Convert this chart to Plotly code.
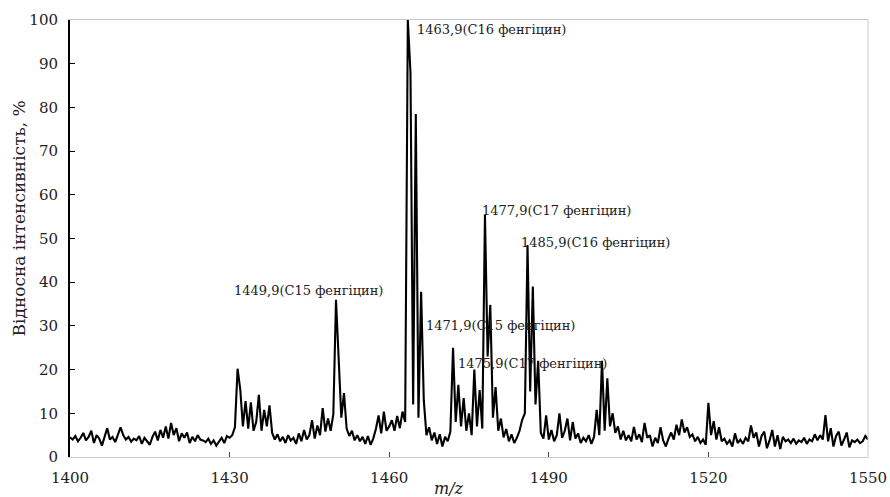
import plotly.graph_objects as go

# m/z grid start and step (uniform sampling of the spectrum)
mz_start = 1400.0
mz_step = 0.5

# Relative intensity, % (one value per 0.5 m/z, 1400 .. 1550)
intensity = [
    # 1400.0 - 1409.5
    4.5, 4.0, 4.8, 3.6, 4.4, 5.5, 3.8, 4.6, 6.0, 3.2,
    5.0, 4.2, 2.6, 4.8, 6.6, 4.0, 4.6, 3.4, 5.2, 6.8,
    # 1410.0 - 1419.5
    5.0, 4.0, 4.6, 3.5, 4.2, 3.8, 4.8, 3.0, 4.4, 3.6,
    2.8, 4.6, 5.8, 3.8, 6.2, 4.4, 7.0, 4.2, 7.8, 5.0,
    # 1420.0 - 1429.5
    6.6, 3.6, 5.4, 4.4, 5.6, 3.2, 4.6, 3.6, 5.0, 4.0,
    3.8, 3.4, 4.2, 3.0, 3.8, 2.6, 3.6, 4.4, 3.2, 4.8,
    # 1430.0 - 1439.5
    4.4, 5.0, 6.8, 20.2, 15.5, 7.0, 12.8, 6.5, 12.5, 6.0,
    8.0, 14.2, 6.0, 10.8, 7.0, 11.8, 5.5, 4.0, 5.2, 3.6,
    # 1440.0 - 1449.5
    4.6, 3.2, 5.0, 3.8, 4.4, 3.0, 5.4, 3.6, 6.2, 4.0,
    5.0, 8.4, 4.2, 7.2, 5.0, 11.2, 5.8, 8.8, 6.0, 9.8,
    # 1450.0 - 1459.5
    36.0, 23.5, 9.0, 14.6, 6.5, 4.8, 6.0, 3.8, 5.0, 3.6,
    4.6, 3.0, 4.8, 2.8, 4.2, 6.4, 9.5, 5.4, 10.4, 6.0,
    # 1460.0 - 1469.5
    7.0, 8.4, 6.0, 9.4, 6.6, 10.4, 8.0, 100.0, 88.0, 12.0,
    78.5, 9.0, 37.8, 13.0, 5.0, 6.8, 3.8, 5.6, 3.0, 5.2,
    # 1470.0 - 1479.5
    2.4, 4.6, 3.6, 5.8, 25.0, 8.0, 16.5, 7.0, 13.5, 6.0,
    10.0, 5.0, 20.0, 7.0, 15.3, 6.5, 55.4, 23.0, 34.8, 9.0,
    # 1480.0 - 1489.5
    16.0, 6.0, 8.8, 4.5, 6.4, 3.6, 5.2, 3.2, 4.4, 6.0,
    8.5, 10.0, 48.5, 15.0, 39.0, 12.0, 22.0, 5.5, 4.2, 9.5,
    # 1490.0 - 1499.5
    4.0, 6.2, 3.6, 5.0, 10.0, 4.4, 6.0, 8.8, 3.8, 8.0,
    4.2, 5.4, 3.2, 4.4, 3.6, 5.0, 3.0, 4.6, 10.8, 5.0,
    # 1500.0 - 1509.5
    22.0, 6.0, 18.0, 7.0, 10.0, 5.5, 7.0, 4.0, 6.0, 3.8,
    5.0, 3.6, 6.9, 4.0, 5.2, 3.4, 7.8, 4.4, 5.0, 2.4,
    # 1510.0 - 1519.5
    4.4, 3.2, 6.8, 3.8, 2.4, 4.2, 5.6, 4.0, 7.4, 5.0,
    8.6, 5.6, 6.8, 4.6, 5.2, 3.6, 4.6, 3.2, 4.0, 2.8,
    # 1520.0 - 1529.5
    12.4, 5.0, 8.2, 4.0, 6.8, 3.6, 4.2, 3.0, 3.8, 2.4,
    5.4, 3.2, 4.0, 3.0, 4.4, 3.6, 7.2, 4.4, 5.6, 2.4,
    # 1530.0 - 1539.5
    4.8, 5.8, 2.0, 3.8, 6.2, 2.4, 5.0, 1.8, 4.6, 3.6,
    4.0, 3.2, 4.2, 3.0, 3.8, 3.4, 4.4, 3.0, 4.0, 3.6,
    # 1540.0 - 1550.0
    5.2, 3.8, 5.0, 4.0, 9.6, 3.6, 6.6, 2.4, 4.8, 5.8,
    2.6, 4.0, 5.6, 2.2, 3.8, 3.4, 4.0, 3.2, 3.6, 4.8,
    4.0,
]

mz = [mz_start + mz_step * i for i in range(len(intensity))]

x_ticks = [1400, 1430, 1460, 1490, 1520, 1550]
y_ticks = [0, 10, 20, 30, 40, 50, 60, 70, 80, 90, 100]

peak_labels = [
    "1463,9(C16 фенгіцин)",
    "1449,9(C15 фенгіцин)",
    "1471,9(C15 фенгіцин)",
    "1475,9(C17 фенгіцин)",
    "1477,9(C17 фенгіцин)",
    "1485,9(C16 фенгіцин)",
]
label_pos = [
    (1464.85, 97.9),
    (1430.45, 38.0),
    (1466.5, 30.0),
    (1472.55, 21.3),
    (1477.07, 56.5),
    (1484.4, 49.0),
]

FONT = "DejaVu Serif, Liberation Serif, serif"

fig = go.Figure()
fig.add_trace(go.Scatter(
    x=mz, y=intensity, mode="lines",
    line=dict(color="black", width=2.1),
    hoverinfo="x+y", showlegend=False,
))

annotations = []
for txt, (ax, ay) in zip(peak_labels, label_pos):
    annotations.append(dict(
        x=ax, y=ay, xref="x", yref="y", text=txt, showarrow=False,
        xanchor="left", yanchor="middle",
        font=dict(family=FONT, size=13, color="#222"),
    ))
annotations.append(dict(
    x=0.475, y=0, xref="paper", yref="paper", yshift=-20,
    text="<i>m/z</i>", showarrow=False, xanchor="center", yanchor="top",
    font=dict(family=FONT, size=16, color="#222"),
))
annotations.append(dict(
    x=0, y=0.5, xref="paper", yref="paper", xshift=-52, yshift=20,
    text="Відносна інтенсивність, %", showarrow=False, textangle=-90,
    xanchor="center", yanchor="middle",
    font=dict(family=FONT, size=17, color="#222"),
))

fig.update_layout(
    width=890, height=497,
    margin=dict(l=70, r=22, t=20, b=40, autoexpand=False),
    paper_bgcolor="white", plot_bgcolor="white",
    font=dict(family=FONT, size=15, color="#222"),
    annotations=annotations,
    shapes=[dict(type="line", xref="paper", yref="paper",
                 x0=1, x1=1, y0=0, y1=1,
                 line=dict(color="#c8c8c8", width=1))],
)
fig.update_xaxes(
    range=[1400, 1550], tickvals=x_ticks, ticktext=[str(v) for v in x_ticks],
    showgrid=False, zeroline=False, showline=True, linecolor="#c8c8c8",
    linewidth=1, mirror=True, ticks="inside", ticklen=5, tickcolor="#444",
    tickwidth=1, ticklabelstandoff=7, automargin=False,
)
fig.update_yaxes(
    range=[0, 100], tickvals=y_ticks, showgrid=False, zeroline=False,
    showline=True, linecolor="black", linewidth=2, ticks="inside",
    ticklen=5, tickcolor="black", tickwidth=1, ticklabelstandoff=7,
    automargin=False,
)

fig.write_html(
    "out.html",
    config={"displayModeBar": False},
    post_script="document.body.style.margin='0';"
                "document.body.style.overflow='hidden';",
)
